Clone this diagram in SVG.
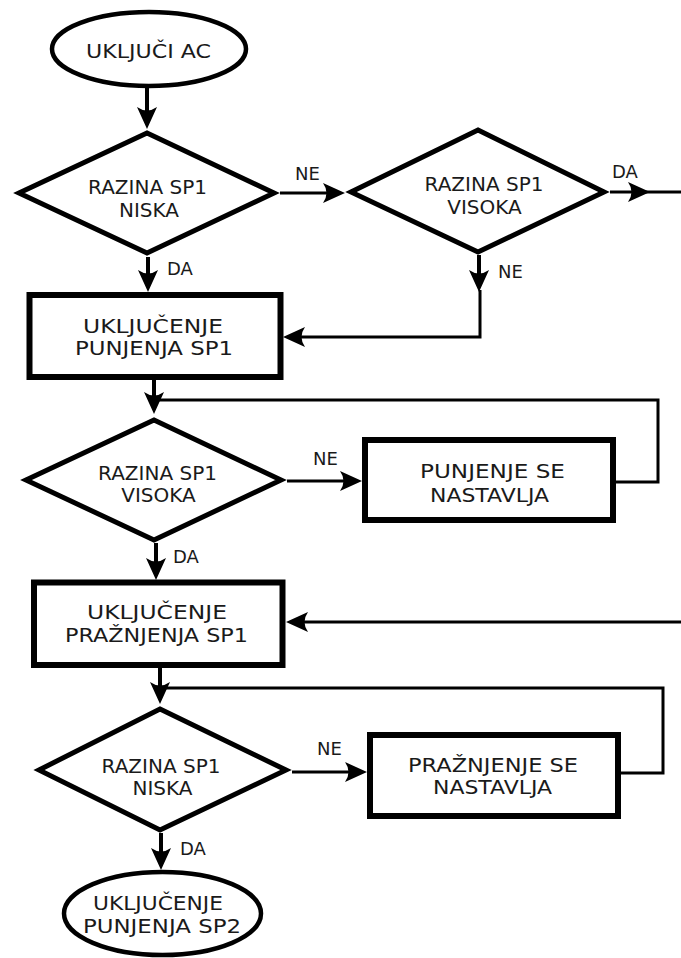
<svg xmlns="http://www.w3.org/2000/svg" width="681" height="958" viewBox="0 0 681 958">
<style>
.shape{fill:#fff;stroke:#000}
.ell{stroke-width:4.5}
.dia{stroke-width:5}
.box{stroke-width:6}
.t{font-family:"DejaVu Sans","Liberation Sans",sans-serif;font-size:20px;fill:#1a1a1a;text-anchor:middle}
.ts{font-size:19px}
.lbl{font-family:"DejaVu Sans","Liberation Sans",sans-serif;font-size:18px;fill:#1a1a1a}
.c{fill:none;stroke:#000;stroke-width:4}
.cl{fill:none;stroke:#000;stroke-width:3}
</style>
<defs>
<marker id="arr" markerUnits="userSpaceOnUse" viewBox="-13 -11 24 22" markerWidth="24" markerHeight="22" refX="0" refY="0" orient="auto" overflow="visible">
<path d="M10,0 L-12,-10 Q-5,0 -12,10 Z" fill="#000"/>
</marker>
</defs>
<rect width="681" height="958" fill="#fff"/>

<g id="connectors">
<path class="c" d="M147,88 V119" marker-end="url(#arr)"/>
<path class="cl" d="M280,193 H335" marker-end="url(#arr)"/>
<path class="cl" d="M610,192 H640" marker-end="url(#arr)"/>
<path class="cl" d="M640,192 H690"/>
<path class="c" d="M148,257 V282" marker-end="url(#arr)"/>
<path class="c" d="M479,255 V282" marker-end="url(#arr)"/>
<path class="cl" d="M480,290 V337 H293" marker-end="url(#arr)"/>
<path class="c" d="M154,377 V404" marker-end="url(#arr)"/>
<path class="cl" d="M615,482 H658 V400 H154"/>
<path class="cl" d="M287,481 H352" marker-end="url(#arr)"/>
<path class="c" d="M156,543 V570" marker-end="url(#arr)"/>
<path class="cl" d="M690,622 H296" marker-end="url(#arr)"/>
<path class="c" d="M160,665 V694" marker-end="url(#arr)"/>
<path class="cl" d="M621,773 H663 V688 H160"/>
<path class="cl" d="M292,772 H357" marker-end="url(#arr)"/>
<path class="c" d="M161,833 V860" marker-end="url(#arr)"/>
<text class="lbl" x="295" y="180">NE</text>
<text class="lbl" x="612" y="178">DA</text>
<text class="lbl" x="167" y="275">DA</text>
<text class="lbl" x="498" y="278">NE</text>
<text class="lbl" x="313" y="465">NE</text>
<text class="lbl" x="173" y="563">DA</text>
<text class="lbl" x="317" y="755">NE</text>
<text class="lbl" x="180" y="855">DA</text>
</g>

<g id="start">
<ellipse class="shape ell" cx="149" cy="49" rx="97" ry="37"/>
<text class="t" x="148.5" y="58" textLength="125" lengthAdjust="spacingAndGlyphs">UKLJUČI AC</text>
</g>

<g id="d1">
<polygon class="shape dia" points="147,133 274,193 147,253 19,193"/>
<text class="t" x="147.5" y="194">RAZINA SP1</text>
<text class="t" x="149" y="216.5">NISKA</text>
</g>

<g id="d2">
<polygon class="shape dia" points="478,130 604,192 478,252 351,192"/>
<text class="t" x="484" y="191">RAZINA SP1</text>
<text class="t" x="484.5" y="213.5">VISOKA</text>
</g>

<g id="r1">
<rect class="shape box" x="29.5" y="295" width="251" height="82"/>
<text class="t ts" x="153" y="333" textLength="140" lengthAdjust="spacingAndGlyphs">UKLJUČENJE</text>
<text class="t ts" x="154" y="355" textLength="158" lengthAdjust="spacingAndGlyphs">PUNJENJA SP1</text>
</g>

<g id="d3">
<polygon class="shape dia" points="154,420 281,480 154,540 26,480"/>
<text class="t" x="157.5" y="480">RAZINA SP1</text>
<text class="t" x="158.5" y="502">VISOKA</text>
</g>

<g id="r2">
<rect class="shape box" x="365" y="440" width="248" height="80"/>
<text class="t ts" x="492.5" y="478" textLength="145" lengthAdjust="spacingAndGlyphs">PUNJENJE SE</text>
<text class="t ts" x="489.5" y="502" textLength="119" lengthAdjust="spacingAndGlyphs">NASTAVLJA</text>
</g>

<g id="r3">
<rect class="shape box" x="34" y="582.5" width="248.5" height="82.5"/>
<text class="t ts" x="157" y="619" textLength="140" lengthAdjust="spacingAndGlyphs">UKLJUČENJE</text>
<text class="t ts" x="156.5" y="642" textLength="183" lengthAdjust="spacingAndGlyphs">PRAŽNJENJA SP1</text>
</g>

<g id="d4">
<polygon class="shape dia" points="160,709 286,770 160,830 39,770"/>
<text class="t" x="161" y="773">RAZINA SP1</text>
<text class="t" x="162.5" y="795">NISKA</text>
</g>

<g id="r4">
<rect class="shape box" x="370" y="735" width="248" height="81"/>
<text class="t ts" x="493" y="772" textLength="170" lengthAdjust="spacingAndGlyphs">PRAŽNJENJE SE</text>
<text class="t ts" x="492.5" y="794" textLength="119" lengthAdjust="spacingAndGlyphs">NASTAVLJA</text>
</g>

<g id="end">
<ellipse class="shape ell" cx="162.5" cy="913.5" rx="98.5" ry="41.5"/>
<text class="t ts" x="158" y="910" textLength="130" lengthAdjust="spacingAndGlyphs">UKLJUČENJE</text>
<text class="t ts" x="162" y="933" textLength="158" lengthAdjust="spacingAndGlyphs">PUNJENJA SP2</text>
</g>
</svg>
